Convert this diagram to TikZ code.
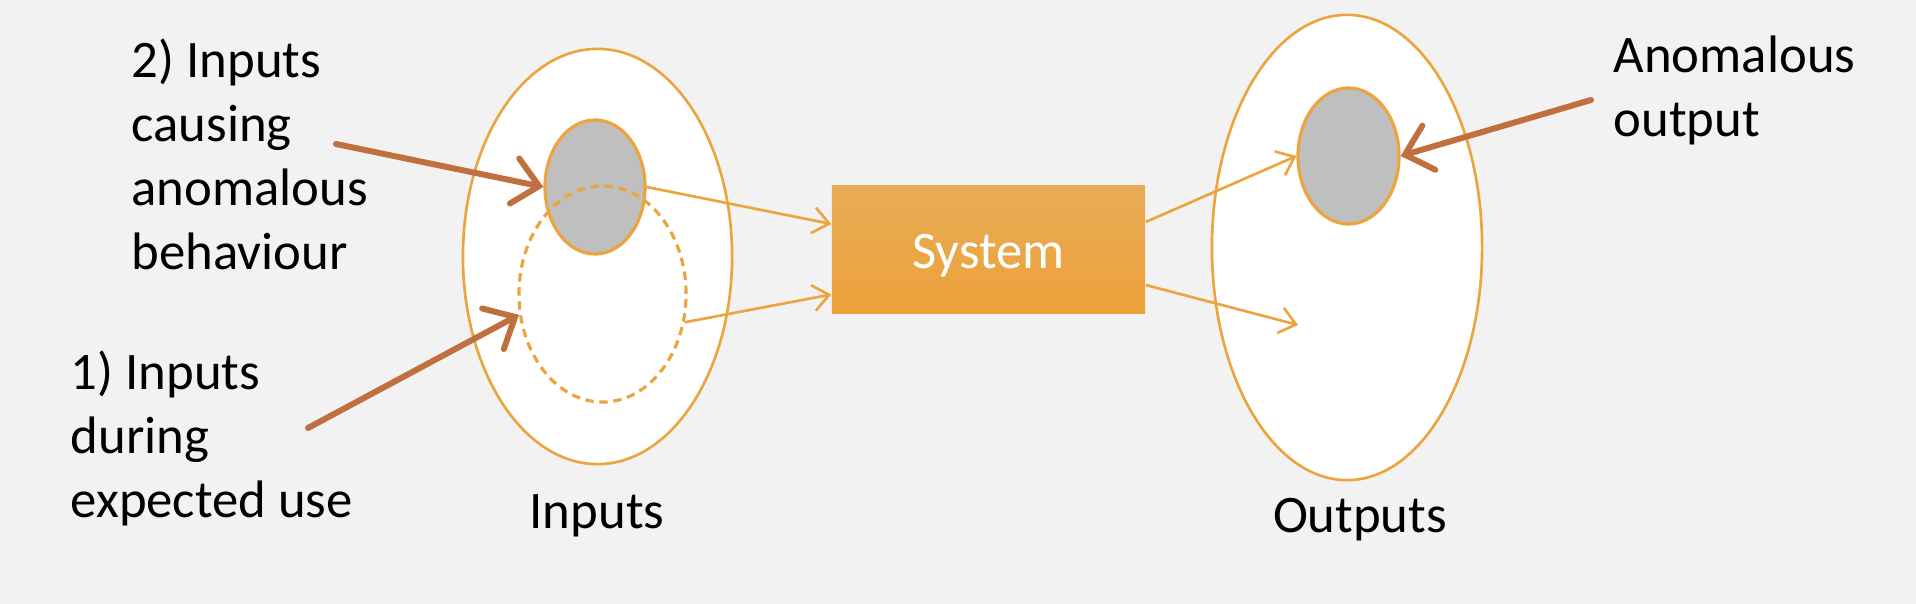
\documentclass[tikz,border=0pt]{standalone}
\usepackage{fontspec}
\setmainfont{Carlito}
\usetikzlibrary{shapes.geometric,arrows.meta,scopes}

\definecolor{bgcol}{HTML}{F2F2F2}
\definecolor{setline}{HTML}{EBA43E}
\definecolor{anomfill}{HTML}{BFBFBF}
\definecolor{pointcol}{HTML}{C0703F}

\begin{document}
\begin{tikzpicture}[
  x=0.01cm, y=-0.01cm,
  set/.style={ellipse, draw=setline, line width=0.75pt, fill=white, inner sep=0pt},
  anomaly/.style={ellipse, draw=setline, line width=0.9pt, fill=anomfill, inner sep=0pt},
  expected/.style={ellipse, draw=setline, line width=0.9pt, dash pattern=on 2.4pt off 1.6pt, inner sep=0pt},
  sysbox/.style={rectangle, top color=sysTop, bottom color=sysBot, text=white, font=\fontsize{15}{18}\selectfont, text height=14pt, text depth=3pt},
  flow/.style={draw=setline, line width=0.75pt, -{Straight Barb[length=0.16cm, width=0.26cm]}},
  pointer/.style={draw=pointcol, line width=1.7pt, line cap=round, -{Straight Barb[length=0.25cm, width=0.46cm, line cap=round]}},
  note/.style={font=\fontsize{15}{18.2}\selectfont, align=left, inner sep=0pt},
  ]
  \definecolor{sysTop}{HTML}{EAAB57}
  \definecolor{sysBot}{HTML}{EBA23A}

  % Background
  \fill[bgcol] (0,0) rectangle (1916,604);
  \useasboundingbox (0,0) rectangle (1916,604);

  % Input set
  \node[set, minimum width=2.69cm, minimum height=4.15cm] (inset) at (597.5,256.5) {};
  \node[anomaly, minimum width=1.0cm, minimum height=1.34cm] (badin) at (595,187) {};
  \node[expected, minimum width=1.67cm, minimum height=2.16cm] (normin) at (602.5,294) {};

  % Output set
  \node[set, minimum width=2.70cm, minimum height=4.65cm] (outset) at (1347,247.5) {};
  \node[anomaly, minimum width=1.01cm, minimum height=1.36cm] (badout) at (1348.5,156) {};

  % System
  \node[sysbox, minimum width=3.13cm, minimum height=1.27cm] (sys) at (988.5,249.5) {System};

  % Free ends
  \coordinate (okout) at (1298,325);
  \coordinate (tail2) at (336,144);
  \coordinate (tail1) at (308,428);
  \coordinate (tailout) at (1591,100);

  % Flows through the system
  {[flow]
    \draw (badin.east) -- ([yshift=0.255cm]sys.west);
    \draw (normin.-19) -- ([yshift=-0.45cm]sys.west);
    \draw ([yshift=0.275cm]sys.east) -- (badout.west);
    \draw ([yshift=-0.355cm]sys.east) -- (okout);
  }

  % Pointers
  {[pointer]
    \draw (tail2) -- (badin.west);
    \draw (tail1) -- (normin.194);
    \draw (tailout) -- (badout.east);
  }

  % Labels (base = last line)
  \node[note, anchor=base west] (q2) at (131,270) {2) Inputs\\causing\\anomalous\\behaviour};
  \node[note, anchor=base west] (q1) at (70,518) {1) Inputs\\during\\expected use};
  \node[note, anchor=base] (inlab) at (597,528) {Inputs};
  \node[note, anchor=base] (outlab) at (1360,533) {Outputs};
  \node[note, anchor=base west] (qout) at (1613,137) {Anomalous\\output};

\end{tikzpicture}
\end{document}
